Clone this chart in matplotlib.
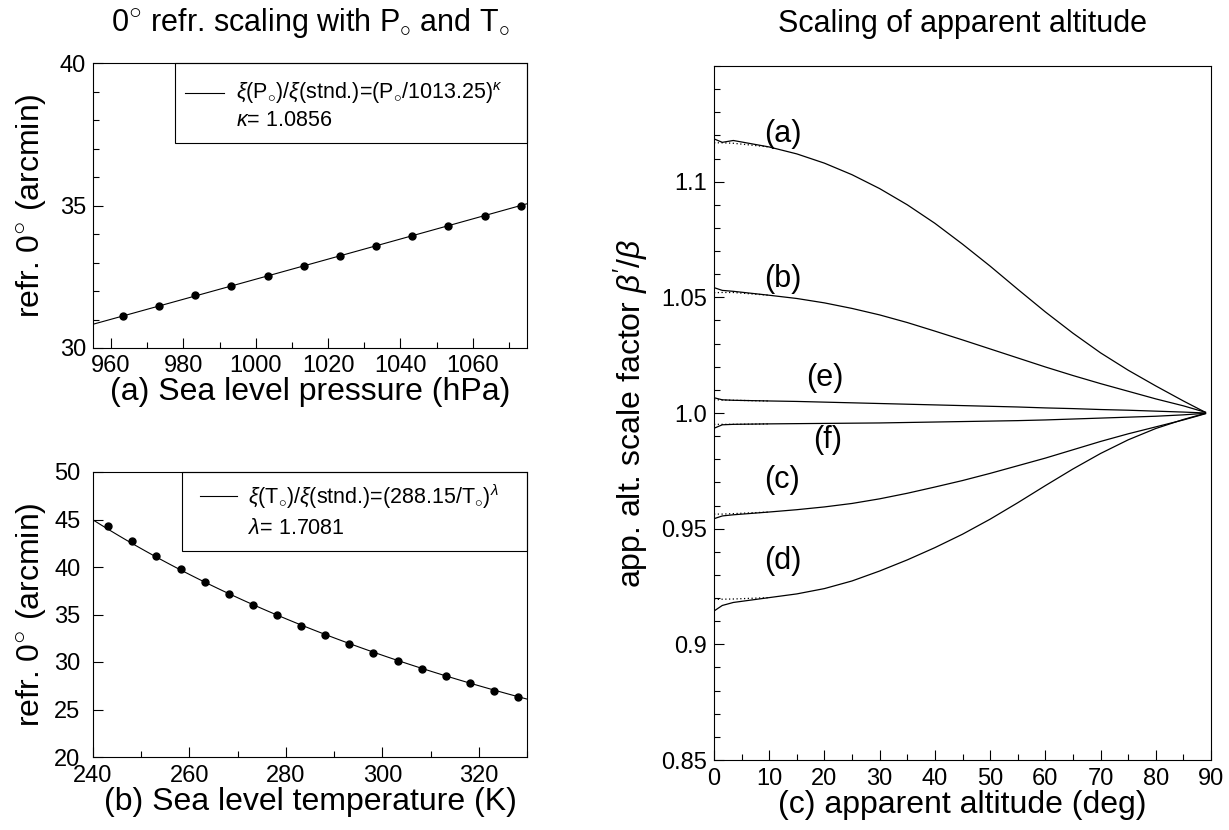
import matplotlib
matplotlib.use("Agg")
import matplotlib.pyplot as plt
import numpy as np
from matplotlib.patches import Rectangle
from matplotlib.ticker import MultipleLocator

plt.rcParams["font.family"] = ["Liberation Sans", "DejaVu Sans"]
plt.rcParams["mathtext.fontset"] = "custom"
plt.rcParams["mathtext.rm"] = "Liberation Sans"
plt.rcParams["mathtext.it"] = "Liberation Sans:italic"

# (a) refraction at 0 deg vs sea level pressure
pressure = [963.25, 973.25, 983.25, 993.25, 1003.25, 1013.25,
            1023.25, 1033.25, 1043.25, 1053.25, 1063.25, 1073.25]
refr_p = [31.14, 31.49, 31.85, 32.19, 32.53, 32.88,
          33.23, 33.58, 33.92, 34.28, 34.63, 34.98]
kappa = 1.0856
refr_stnd_p = 32.88

# (b) refraction at 0 deg vs sea level temperature
temperature = [243.15, 248.15, 253.15, 258.15, 263.15, 268.15, 273.15, 278.15, 283.15,
               288.15, 293.15, 298.15, 303.15, 308.15, 313.15, 318.15, 323.15, 328.15]
refr_t = [44.3, 42.7, 41.2, 39.75, 38.4, 37.15, 36.0, 34.9, 33.8,
          32.8, 31.9, 30.95, 30.1, 29.25, 28.5, 27.8, 27.0, 26.35]
lam = 1.7081
refr_stnd_t = 32.9

# (c) apparent altitude scale factor
alt = [0, 1.5, 3.5, 10, 15, 20, 25, 30, 35, 40, 45, 50, 55, 60, 65, 70, 75, 80, 85, 88, 89]
curve_a = [1.1185, 1.1170, 1.1178, 1.1150, 1.1120, 1.1080, 1.1030, 1.0970, 1.0900, 1.0820, 1.0730,
           1.0635, 1.0535, 1.0437, 1.0345, 1.0260, 1.0185, 1.0117, 1.0052, 1.0015, 1.0003]
curve_b = [1.0542, 1.0530, 1.0526, 1.0509, 1.0495, 1.0476, 1.0452, 1.0424, 1.0391, 1.0354, 1.0316,
           1.0277, 1.0238, 1.0199, 1.0162, 1.0127, 1.0094, 1.0061, 1.0031, 1.0010, 1.0003]
curve_e = [1.0066, 1.0057, 1.0055, 1.0052, 1.0050, 1.0047, 1.0044, 1.0041, 1.0038, 1.0035, 1.0032,
           1.0029, 1.0026, 1.0022, 1.0019, 1.0015, 1.0012, 1.0008, 1.0004, 1.0001, 1.0000]
curve_f = [0.9934, 0.9949, 0.9951, 0.9953, 0.9954, 0.9955, 0.9956, 0.9957, 0.9959, 0.9961, 0.9963,
           0.9965, 0.9967, 0.9970, 0.9974, 0.9978, 0.9982, 0.9986, 0.9992, 0.9997, 0.9999]
curve_c = [0.9543, 0.9555, 0.9560, 0.9572, 0.9582, 0.9594, 0.9609, 0.9629, 0.9653, 0.9680, 0.9708,
           0.9739, 0.9772, 0.9805, 0.9841, 0.9877, 0.9910, 0.9940, 0.9970, 0.9990, 0.9997]
curve_d = [0.9144, 0.9168, 0.9181, 0.9202, 0.9218, 0.9241, 0.9274, 0.9317, 0.9365, 0.9418, 0.9476,
           0.9541, 0.9612, 0.9686, 0.9758, 0.9825, 0.9884, 0.9933, 0.9972, 0.9992, 0.9998]
# dotted (approximate) curves differ only near the horizon
alt_dot = [0, 1.5, 3.5, 10]
dot_a = [1.1168, 1.1168, 1.1166, 1.1150]
dot_b = [1.0520, 1.0521, 1.0521, 1.0509]
dot_e = [1.0058, 1.0056, 1.0055, 1.0052]
dot_f = [0.9951, 0.9951, 0.9951, 0.9953]
dot_c = [0.9563, 0.9563, 0.9565, 0.9572]
dot_d = [0.9194, 0.9195, 0.9196, 0.9202]
curve_names = ["(a)", "(b)", "(e)", "(f)", "(c)", "(d)"]
label_x = [12.4, 12.4, 20.0, 20.6, 12.4, 12.4]
label_y = [1.1206, 1.058, 1.015, 0.9884, 0.9711, 0.9359]

W, H = 1229, 830
fig = plt.figure(figsize=(W / 100, H / 100), dpi=100)


def box(x0, x1, y_top, y_bot):
    return [x0 / W, 1 - y_bot / H, (x1 - x0) / W, (y_bot - y_top) / H]


ax1 = fig.add_axes(box(93, 527, 63, 348))
ax2 = fig.add_axes(box(93, 527, 472, 757))
ax3 = fig.add_axes(box(714, 1211, 66, 760))

tick_fs = 17
label_fs = 23


def style(ax):
    ax.tick_params(which="both", direction="in", top=False, right=False,
                   labelsize=tick_fs, width=0.8, pad=5)
    ax.tick_params(which="major", length=7)
    ax.tick_params(which="minor", length=4)
    for s in ax.spines.values():
        s.set_linewidth(0.8)


def fit_legend(ax, x0, y0, handle, text_x, line1, line2, y1, y2):
    ax.add_patch(Rectangle((x0, y0), 1 - x0, 1 - y0, transform=ax.transAxes,
                           fill=False, lw=0.8, ec="black", clip_on=False))
    ax.plot(handle, [y1, y1], color="black", lw=0.8, transform=ax.transAxes)
    ax.text(text_x, y1, line1, transform=ax.transAxes, fontsize=15.5, va="center")
    ax.text(text_x, y2, line2, transform=ax.transAxes, fontsize=15.5, va="center")


deg = r"0$^{\bigcirc}$"

# (a)
p_line = np.linspace(955, 1075, 100)
ax1.plot(p_line, refr_stnd_p * (p_line / 1013.25) ** kappa, color="black", lw=0.8)
ax1.plot(pressure, refr_p, "o", color="black", ms=5)
ax1.set_xlim(955, 1075)
ax1.set_ylim(30, 40)
ax1.xaxis.set_major_locator(MultipleLocator(20))
ax1.xaxis.set_minor_locator(MultipleLocator(10))
ax1.yaxis.set_major_locator(MultipleLocator(5))
ax1.yaxis.set_minor_locator(MultipleLocator(1))
style(ax1)
ax1.set_xlabel("(a) Sea level pressure (hPa)", fontsize=label_fs, labelpad=0)
ax1.set_ylabel("refr. " + deg + " (arcmin)", fontsize=label_fs, labelpad=8)
fit_legend(ax1, 0.19, 0.721, [0.211, 0.302], 0.33,
           r"$\xi$(P$_{\circ}$)/$\xi$(stnd.)=(P$_{\circ}$/1013.25)$^{\kappa}$",
           r"$\kappa$= 1.0856", 0.895, 0.80)

# (b)
t_line = np.linspace(240, 330, 100)
ax2.plot(t_line, refr_stnd_t * (288.15 / t_line) ** lam, color="black", lw=0.8)
ax2.plot(temperature, refr_t, "o", color="black", ms=5)
ax2.set_xlim(240, 330)
ax2.set_ylim(20, 50)
ax2.xaxis.set_major_locator(MultipleLocator(20))
ax2.xaxis.set_minor_locator(MultipleLocator(10))
ax2.yaxis.set_major_locator(MultipleLocator(5))
style(ax2)
ax2.tick_params(axis="y", pad=9)
ax2.tick_params(axis="x", pad=6)
ax2.set_xlabel("(b) Sea level temperature (K)", fontsize=label_fs, labelpad=0)
ax2.set_ylabel("refr. " + deg + " (arcmin)", fontsize=label_fs, labelpad=4)
fit_legend(ax2, 0.206, 0.723, [0.246, 0.332], 0.357,
           r"$\xi$(T$_{\circ}$)/$\xi$(stnd.)=(288.15/T$_{\circ}$)$^{\lambda}$",
           r"$\lambda$= 1.7081", 0.915, 0.80)

fig.text((93 + 527) / 2 / W, 1 - 24 / H,
         deg + r" refr. scaling with P$_{\circ}$ and T$_{\circ}$",
         ha="center", va="center", fontsize=22)

# (c)
for sol, dot in [(curve_a, dot_a), (curve_b, dot_b), (curve_e, dot_e),
                 (curve_f, dot_f), (curve_c, dot_c), (curve_d, dot_d)]:
    ax3.plot(alt, sol, color="black", lw=0.9)
    ax3.plot(alt_dot, dot, color="black", lw=0.9, ls=(0, (1, 2)))
for name, lx, ly in zip(curve_names, label_x, label_y):
    ax3.text(lx, ly, name, fontsize=22, ha="center", va="center")
ax3.set_xlim(0, 90)
ax3.set_ylim(0.85, 1.15)
ax3.set_xticks(np.arange(0, 91, 10))
ax3.xaxis.set_minor_locator(MultipleLocator(5))
ax3.set_yticks([0.85, 0.9, 0.95, 1.0, 1.05, 1.1])
ax3.set_yticklabels(["0.85", "0.9", "0.95", "1.0", "1.05", "1.1"])
ax3.yaxis.set_minor_locator(MultipleLocator(0.01))
style(ax3)
ax3.tick_params(axis="x", pad=6)
ax3.set_xlabel("(c) apparent altitude (deg)", fontsize=label_fs, labelpad=0)
ax3.set_ylabel(r"app. alt. scale factor $\beta^{\prime}/\beta$", fontsize=label_fs, labelpad=8)
fig.text((714 + 1211) / 2 / W, 1 - 24 / H, "Scaling of apparent altitude",
         ha="center", va="center", fontsize=22)

fig.savefig("out.png", dpi=100)
